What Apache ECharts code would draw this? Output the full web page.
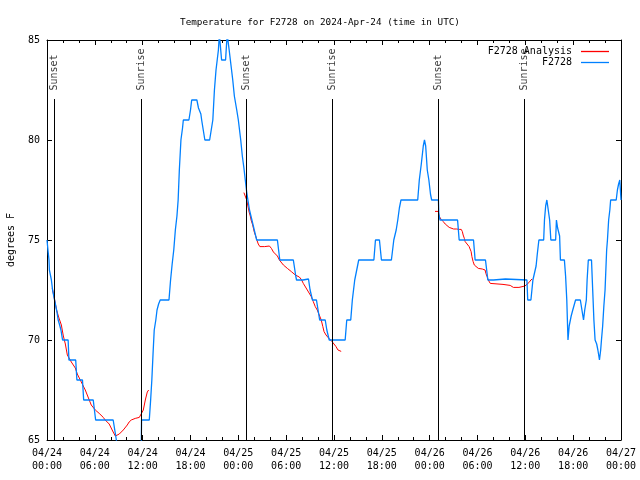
<!DOCTYPE html>
<html><head><meta charset="utf-8">
<script src="https://cdn.jsdelivr.net/npm/echarts@6/dist/echarts.min.js"></script>
<style>html,body{margin:0;padding:0;background:#fff}#c{width:640px;height:480px}</style>
</head><body><div id="c"></div>
<script>
// ---- data (hours since 2024-04-24 00:00 UTC, degrees F) ----
var xTickLabels = ["04/24\n00:00","04/24\n06:00","04/24\n12:00","04/24\n18:00","04/25\n00:00","04/25\n06:00","04/25\n12:00","04/25\n18:00","04/26\n00:00","04/26\n06:00","04/26\n12:00","04/26\n18:00","04/27\n00:00"];
var eventNames = ["Sunset","Sunrise","Sunset","Sunrise","Sunset","Sunrise"];
var eventHours = [0.92, 11.88, 25.0, 35.8, 49.07, 59.87];

var obsHours = [0.0,0.08,0.12,0.25,0.3,0.45,0.55,0.7,0.85,0.95,1.1,1.25,1.4,1.55,1.75,1.95,2.65,2.75,3.6,3.75,4.45,4.6,5.8,6.1,8.3,8.5,8.7,8.85,11.82,11.86,12.83,13.0,13.15,13.3,13.45,13.65,13.8,14.0,14.2,15.3,15.5,15.7,15.9,16.1,16.3,16.45,16.6,16.8,17.0,17.1,17.8,18.0,18.15,18.8,19.0,19.3,19.4,19.6,19.8,20.4,20.6,20.8,21.0,21.2,21.35,21.5,21.62,21.8,21.9,22.4,22.6,22.75,22.85,23.0,23.3,23.5,23.8,24.0,24.3,24.5,24.7,24.9,25.05,25.2,25.4,25.7,26.0,26.3,28.9,29.2,30.9,31.2,31.3,32.1,32.25,32.8,33.0,33.3,33.8,34.0,34.2,34.9,35.1,35.4,37.4,37.6,38.1,38.3,38.6,38.85,39.1,41.0,41.2,41.7,41.95,43.2,43.5,43.8,44.0,44.2,44.4,46.5,46.7,46.95,47.2,47.35,47.5,47.7,47.9,48.1,48.25,49.1,49.15,49.3,51.5,51.7,53.5,53.7,55.0,55.3,56.0,56.2,57.5,57.7,60.2,60.3,60.7,60.95,61.2,61.35,61.5,61.7,62.3,62.4,62.55,62.7,62.9,63.05,63.2,63.8,63.9,64.05,64.3,64.4,64.9,65.05,65.2,65.35,65.5,65.75,65.95,66.3,66.9,67.1,67.3,67.45,67.65,67.75,67.9,68.3,68.45,68.6,68.75,68.95,69.1,69.3,69.45,69.55,69.7,69.85,70.0,70.1,70.2,70.3,70.45,70.6,70.7,71.4,71.55,71.7,71.85,72.0];
var obsTemps = [75.0,75.0,74.5,74.0,73.5,73.2,73.0,72.5,72.2,72.0,71.7,71.4,71.0,70.8,70.5,70.0,70.0,69.0,69.0,68.0,68.0,67.0,67.0,66.0,66.0,65.5,65.0,64.5,64.5,66.0,66.0,67.0,68.0,69.3,70.5,71.0,71.5,71.8,72.0,72.0,73.0,73.8,74.5,75.5,76.2,77.0,78.5,80.0,80.6,81.0,81.0,81.5,82.0,82.0,81.6,81.3,81.0,80.5,80.0,80.0,80.5,81.0,82.5,83.5,84.0,84.5,85.3,85.3,84.0,84.0,85.3,85.3,84.5,84.0,83.0,82.2,81.5,81.0,80.0,79.2,78.6,77.9,77.4,77.0,76.5,76.0,75.5,75.0,75.0,74.0,74.0,73.2,73.0,73.0,73.05,73.05,72.5,72.0,72.0,71.5,71.0,71.0,70.5,70.0,70.0,71.0,71.0,72.0,73.0,73.0,74.0,74.0,75.0,75.0,74.0,74.0,75.0,75.5,76.0,76.6,77.0,77.0,78.0,78.8,79.7,80.0,79.7,78.5,78.0,77.3,77.0,77.0,76.3,76.0,76.0,75.0,75.0,74.0,74.0,73.0,73.0,73.05,73.05,73.0,73.0,72.0,72.0,73.0,73.0,73.7,74.3,75.0,75.0,76.0,76.7,77.0,77.0,76.0,75.0,75.0,76.0,75.6,75.2,74.0,74.0,73.2,72.0,70.0,70.7,71.2,71.5,72.0,72.0,71.5,71.0,71.5,72.0,73.0,74.0,74.0,72.5,71.0,70.0,69.8,69.5,69.0,69.5,70.0,70.7,71.7,72.5,73.5,74.5,75.0,76.0,76.5,77.0,77.0,77.5,77.8,78.0,77.0];

var anaHours1 = [0.66,0.8,0.96,1.2,1.5,1.8,2.05,2.3,2.55,3.05,3.55,3.8,4.05,4.55,4.8,5.05,5.55,5.8,6.06,6.55,7.06,7.3,7.55,7.8,8.05,8.3,8.57,8.82,9.07,9.57,10.07,10.3,10.57,11.07,11.58,11.83,12.08,12.33,12.58,12.75];
var anaTemps1 = [72.6,72.5,72.0,71.5,71.1,70.75,70.2,69.8,69.25,68.9,68.6,68.3,68.1,67.7,67.5,67.25,66.75,66.7,66.5,66.33,66.13,66.0,65.9,65.8,65.6,65.4,65.2,65.2,65.3,65.5,65.75,65.9,66.0,66.08,66.13,66.17,66.5,67.0,67.4,67.5];
var anaHours2 = [24.7,24.85,25.05,25.2,25.35,25.5,25.6,25.8,26.0,26.2,26.35,26.5,26.7,27.3,27.5,27.9,28.15,28.4,28.65,28.9,29.15,29.4,29.65,30.15,30.65,31.15,31.65,31.9,32.15,32.65,33.15,33.4,33.65,33.9,34.15,34.4,34.6,34.75,35.0,35.25,35.5,35.75,36.0,36.25,36.5,36.67,36.9];
var anaTemps2 = [77.37,77.4,77.0,76.7,76.4,76.2,76.0,75.75,75.4,75.17,74.97,74.8,74.67,74.67,74.7,74.7,74.58,74.4,74.33,74.2,74.0,73.9,73.75,73.58,73.42,73.25,73.15,73.03,72.83,72.5,72.17,71.92,71.67,71.5,71.25,71.0,70.67,70.42,70.25,70.13,70.03,69.92,69.8,69.67,69.5,69.43,69.43];
var anaHours3 = [48.67,49.08,49.2,49.45,49.7,49.95,50.2,50.45,50.7,51.0,51.4,51.7,51.96,52.1,52.2,52.35,52.45,52.7,52.95,53.2,53.3,53.45,53.6,53.8,54.1,54.6,54.95,55.05,55.2,55.35,55.5,55.6,55.7,57.2,57.45,58.1,58.5,59.2,59.4,59.95,60.2,60.45,60.7,60.85];
var anaTemps3 = [76.43,76.43,76.17,76.03,75.92,75.8,75.7,75.63,75.58,75.55,75.55,75.53,75.53,75.42,75.25,75.08,74.92,74.83,74.67,74.42,74.17,73.92,73.75,73.67,73.58,73.55,73.5,73.33,73.17,73.0,72.92,72.83,72.78,72.78,72.73,72.73,72.63,72.63,72.67,72.7,72.75,72.87,73.0,73.05];

var eventLineTop = 82.05;

function zip(a, b) { return a.map(function (v, i) { return [v, b[i]]; }); }

var FONT = '"DejaVu Sans Mono", monospace';
var chart = echarts.init(document.getElementById('c'), null, {renderer: 'canvas'});

function xAx(pos, showLabel) {
  return {
    type: 'value', position: pos, min: 0, max: 72, interval: 6,
    axisLine: {show: true, onZero: false, lineStyle: {color: '#000', width: 1}},
    axisTick: {show: true, inside: true, length: 5, lineStyle: {color: '#000'}},
    minorTick: {show: true, splitNumber: 3, length: 3, lineStyle: {color: '#000'}},
    splitLine: {show: false}, minorSplitLine: {show: false},
    axisLabel: {show: showLabel, color: '#000', fontFamily: FONT, fontSize: 10, lineHeight: 13, margin: 7,
      formatter: function (v) { return xTickLabels[Math.round(v / 6)]; }}
  };
}
function yAx(pos, showLabel) {
  var a = {
    type: 'value', position: pos, min: 65, max: 85, interval: 5,
    axisLine: {show: true, onZero: false, lineStyle: {color: '#000', width: 1}},
    axisTick: {show: true, inside: true, length: 5, lineStyle: {color: '#000'}},
    splitLine: {show: false},
    axisLabel: {show: showLabel, color: '#000', fontFamily: FONT, fontSize: 10, margin: 7}
  };
  if (showLabel) {
    a.name = 'degrees F'; a.nameLocation = 'middle'; a.nameRotate = 90; a.nameGap = 31;
    a.nameTextStyle = {color: '#000', fontFamily: FONT, fontSize: 10};
  }
  return a;
}

var series = [];
series.push({
  name: 'events', type: 'scatter', symbolSize: 0, silent: true, z: 1,
  data: eventHours.map(function (t, i) { return {value: [t, eventLineTop], name: eventNames[i]}; }),
  label: {show: true, formatter: '{b}', rotate: 90, position: 'top', distance: 7, offset: [1.5, 0],
    align: 'left', verticalAlign: 'middle', color: '#000', fontFamily: FONT, fontSize: 10},
  markLine: {silent: true, symbol: 'none', animation: false,
    lineStyle: {color: '#000', width: 1, type: 'solid'}, label: {show: false},
    data: eventHours.map(function (t) { return [{coord: [t, 65]}, {coord: [t, eventLineTop]}]; })}
});
[[anaHours1, anaTemps1], [anaHours2, anaTemps2], [anaHours3, anaTemps3]].forEach(function (s) {
  series.push({name: 'F2728 Analysis', type: 'line', showSymbol: false, symbol: 'none', z: 2,
    lineStyle: {color: '#ff0000', width: 1}, itemStyle: {color: '#ff0000'},
    data: zip(s[0], s[1]), animation: false});
});
series.push({name: 'F2728', type: 'line', showSymbol: false, symbol: 'none', z: 3,
  lineStyle: {color: '#0080ff', width: 1.3}, itemStyle: {color: '#0080ff'},
  data: zip(obsHours, obsTemps), animation: false});

chart.setOption({
  animation: false,
  backgroundColor: '#fff',
  title: {text: 'Temperature for F2728 on 2024-Apr-24 (time in UTC)', left: 'center', top: 13,
    textStyle: {color: '#000', fontFamily: FONT, fontSize: 9.3, fontWeight: 'normal'}},
  legend: {data: ['F2728 Analysis', 'F2728'], orient: 'vertical', right: 31, top: 46, align: 'right',
    padding: 0, icon: 'rect', itemWidth: 28, itemHeight: 1.3, itemGap: 0,
    textStyle: {color: '#000', fontFamily: FONT, fontSize: 10, lineHeight: 11, padding: [0, 4, 0, 0]}},
  grid: {left: 47, right: 19, top: 40, bottom: 40, containLabel: false, outerBoundsMode: 'none'},
  xAxis: [xAx('bottom', true), xAx('top', false)],
  yAxis: [yAx('left', true), yAx('right', false)],
  series: series
});
</script></body></html>
